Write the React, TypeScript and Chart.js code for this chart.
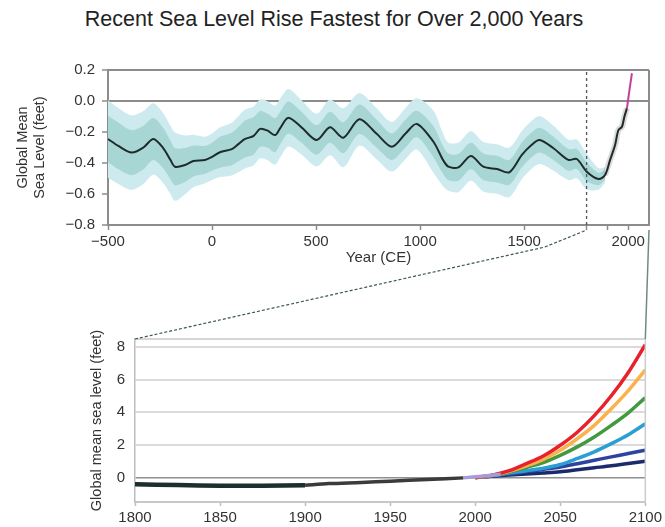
import React, { useEffect, useRef, useState } from 'react';
import { Chart, registerables } from 'chart.js';

Chart.register(...registerables);

// ---------- Top panel: reconstructed sea level, -500 to present (feet) ----------
const proxyYears = [-500, -450, -386, -330, -282, -234, -200, -178, -130, -90, -34, 0, 38, 95, 125, 159, 200, 231, 265, 303, 327, 367, 430, 503, 567, 631, 708, 790, 864, 930, 984, 1064, 1110, 1136, 1184, 1244, 1304, 1369, 1429, 1489, 1530, 1574, 1641, 1713, 1753, 1801, 1857, 1889];
const proxyMean = [-0.245, -0.29, -0.333, -0.3, -0.245, -0.305, -0.38, -0.424, -0.413, -0.387, -0.38, -0.36, -0.331, -0.31, -0.28, -0.245, -0.225, -0.18, -0.19, -0.22, -0.176, -0.108, -0.17, -0.252, -0.17, -0.237, -0.118, -0.21, -0.295, -0.21, -0.148, -0.263, -0.38, -0.424, -0.428, -0.355, -0.424, -0.439, -0.46, -0.348, -0.29, -0.252, -0.305, -0.38, -0.374, -0.456, -0.503, -0.477];
const proxyOuterHalf = [0.25, 0.245, 0.24, 0.235, 0.23, 0.225, 0.22, 0.22, 0.19, 0.17, 0.15, 0.15, 0.16, 0.17, 0.18, 0.19, 0.19, 0.19, 0.19, 0.19, 0.19, 0.185, 0.175, 0.17, 0.18, 0.19, 0.17, 0.165, 0.16, 0.165, 0.165, 0.2, 0.17, 0.155, 0.16, 0.16, 0.16, 0.16, 0.16, 0.155, 0.155, 0.155, 0.145, 0.13, 0.125, 0.115, 0.07, 0.05];
const proxyInnerHalf = [0.15, 0.15, 0.145, 0.14, 0.135, 0.13, 0.125, 0.12, 0.11, 0.1, 0.09, 0.09, 0.1, 0.105, 0.11, 0.12, 0.12, 0.115, 0.11, 0.11, 0.105, 0.104, 0.1, 0.095, 0.1, 0.1, 0.095, 0.09, 0.085, 0.09, 0.085, 0.1, 0.09, 0.086, 0.086, 0.085, 0.085, 0.085, 0.08, 0.08, 0.08, 0.08, 0.075, 0.07, 0.065, 0.06, 0.04, 0.03];
const gaugeYears = [1889, 1913, 1937, 1953, 1970, 1982, 1994];
const gaugeMean = [-0.477, -0.38, -0.284, -0.187, -0.166, -0.1, -0.047];
const satelliteYears = [1994, 2005, 2018];
const satelliteMean = [-0.047, 0.06, 0.179];
const topXTicks = [-500, 0, 500, 1000, 1500, 1800, 1900, 2000];
const topXLabelled = [-500, 0, 500, 1000, 1500, 2000];
const topYTicks = [-0.8, -0.6, -0.4, -0.2, 0, 0.2];
const zoomStartYear = 1800;
const connectorBendYear = 1600;

// ---------- Bottom panel: 1800 to 2100 with scenarios (feet) ----------
const histEarlyYears = [1800, 1825, 1850, 1875, 1900];
const histEarlyMean = [-0.41, -0.46, -0.5, -0.5, -0.47];
const histLateYears = [1900, 1914, 1933, 1950, 1972, 1993];
const histLateMean = [-0.47, -0.37, -0.3, -0.22, -0.12, -0.02];
const recentYears = [1993, 2004, 2015];
const recentMean = [-0.02, 0.08, 0.2];
const scenarioYears = [2000, 2010, 2020, 2030, 2040, 2050, 2060, 2070, 2080, 2090, 2100];
const scenarioExtreme = [0, 0.15, 0.42, 0.85, 1.32, 1.98, 2.78, 3.8, 5.02, 6.45, 8.15];
const scenarioHigh = [0, 0.14, 0.38, 0.72, 1.12, 1.67, 2.38, 3.2, 4.22, 5.33, 6.6];
const scenarioIntHigh = [0, 0.13, 0.34, 0.62, 0.92, 1.36, 1.88, 2.49, 3.2, 3.97, 4.9];
const scenarioIntermediate = [0, 0.12, 0.28, 0.42, 0.57, 0.8, 1.17, 1.58, 2.08, 2.63, 3.3];
const scenarioIntLow = [0, 0.1, 0.22, 0.36, 0.5, 0.65, 0.85, 1.06, 1.27, 1.47, 1.68];
const scenarioLow = [0, 0.08, 0.15, 0.21, 0.28, 0.36, 0.48, 0.6, 0.72, 0.86, 1.0];
const bottomXTicks = [1800, 1850, 1900, 1950, 2000, 2050, 2100];
const bottomYTicks = [0, 2, 4, 6, 8];

const FONT = "'Liberation Sans', Arial, sans-serif";
const TEXT = '#333333';

const pts = (xs: number[], ys: number[]) => xs.map((x, i) => ({ x, y: ys[i] }));
const fmtX = (v: number) => (v < 0 ? '\u2212' + Math.abs(v) : String(v));
const fmtY = (v: number) => {
  const s = Math.abs(v).toFixed(1);
  return v < -1e-9 ? '\u2212' + s : s;
};

const framePlugin = {
  id: 'frame',
  afterDatasetsDraw(chart: any, _args: any, opts: any) {
    const { ctx, chartArea } = chart;
    ctx.save();
    ctx.strokeStyle = opts.topColor;
    ctx.lineWidth = opts.topWidth;
    ctx.beginPath();
    ctx.moveTo(chartArea.left, chartArea.top);
    ctx.lineTo(chartArea.right, chartArea.top);
    ctx.stroke();
    ctx.strokeStyle = opts.rightColor;
    ctx.lineWidth = opts.rightWidth;
    ctx.beginPath();
    ctx.moveTo(chartArea.right, chartArea.top);
    ctx.lineTo(chartArea.right, chartArea.bottom);
    ctx.stroke();
    ctx.restore();
  },
};

const noPts = { pointRadius: 0, pointHoverRadius: 0 };

function topConfig(): any {
  const band = (half: number[], sign: number) =>
    proxyYears.map((x, i) => ({ x, y: proxyMean[i] + sign * half[i] }));
  return {
    type: 'line',
    data: {
      datasets: [
        { data: [{ x: zoomStartYear, y: -0.8 }, { x: zoomStartYear, y: 0.2 }], borderColor: '#555', borderWidth: 1.3, borderDash: [3, 3], tension: 0, ...noPts },
        { data: pts(satelliteYears, satelliteMean), borderColor: '#c2409f', borderWidth: 2, tension: 0.3, ...noPts },
        { data: [...pts(proxyYears, proxyMean), ...pts(gaugeYears.slice(1), gaugeMean.slice(1))], borderColor: '#1f2b2b', borderWidth: 2, tension: 0.3, ...noPts },
        { data: pts(gaugeYears, gaugeMean), borderColor: 'rgba(165,165,165,0.4)', borderWidth: 6, tension: 0.3, ...noPts },
        { data: band(proxyInnerHalf, 1), borderColor: 'rgba(0,0,0,0)', backgroundColor: '#a7d6d4', fill: '+1', tension: 0.3, ...noPts },
        { data: band(proxyInnerHalf, -1), borderColor: 'rgba(0,0,0,0)', fill: false, tension: 0.3, ...noPts },
        { data: band(proxyOuterHalf, 1), borderColor: 'rgba(0,0,0,0)', backgroundColor: '#cdeaee', fill: '+1', tension: 0.3, ...noPts },
        { data: band(proxyOuterHalf, -1), borderColor: 'rgba(0,0,0,0)', fill: false, tension: 0.3, ...noPts },
      ],
    },
    plugins: [framePlugin],
    options: {
      animation: false,
      responsive: false,
      maintainAspectRatio: false,
      devicePixelRatio: 1,
      layout: { padding: { top: 70, right: 16, left: 0, bottom: 0 } },
      plugins: {
        legend: { display: false },
        tooltip: { enabled: false },
        frame: { topColor: '#8c8c8c', topWidth: 2, rightColor: '#8c8c8c', rightWidth: 2 },
      },
      scales: {
        x: {
          type: 'linear', min: -500, max: 2100,
          afterBuildTicks: (s: any) => { s.ticks = topXTicks.map((v) => ({ value: v })); },
          afterFit: (s: any) => { s.height = 45; },
          ticks: { autoSkip: false, maxRotation: 0, padding: 3, color: TEXT, font: { family: FONT, size: 15 }, callback: (v: number) => (topXLabelled.includes(v) ? fmtX(v) : '') },
          grid: { drawOnChartArea: false, tickLength: 5, tickColor: '#8c8c8c', tickWidth: 1.5 },
          border: { display: true, color: '#8c8c8c', width: 2 },
          title: { display: true, text: 'Year (CE)', color: TEXT, font: { family: FONT, size: 15 }, padding: { top: 0, bottom: 3 } },
        },
        y: {
          type: 'linear', min: -0.8, max: 0.2,
          afterBuildTicks: (s: any) => { s.ticks = topYTicks.map((v) => ({ value: v })); },
          afterFit: (s: any) => { s.width = 108; },
          ticks: { padding: 7, color: TEXT, font: { family: FONT, size: 15 }, callback: (v: number) => fmtY(v) },
          grid: {
            color: (c: any) => (c.tick && Math.abs(c.tick.value) < 1e-9 ? '#8c8c8c' : 'rgba(0,0,0,0)'),
            lineWidth: 2, tickLength: 6, tickColor: '#8c8c8c', tickWidth: 1.5,
          },
          border: { display: true, color: '#8c8c8c', width: 2 },
          title: { display: true, text: ['Global Mean', 'Sea Level (feet)'], color: TEXT, font: { family: FONT, size: 14.5 }, padding: { top: 14, bottom: 0 } },
        },
      },
    },
  };
}

function bottomConfig(): any {
  const scen = (ys: number[], color: string) => ({ data: pts(scenarioYears, ys), borderColor: color, borderWidth: 3.5, cubicInterpolationMode: 'monotone', ...noPts });
  return {
    type: 'line',
    data: {
      datasets: [
        { data: pts(recentYears, recentMean), borderColor: '#a79bdc', borderWidth: 3.5, tension: 0.3, ...noPts },
        scen(scenarioExtreme, '#e8212b'),
        scen(scenarioHigh, '#fbb24c'),
        scen(scenarioIntHigh, '#43993f'),
        scen(scenarioIntermediate, '#2b9fd4'),
        scen(scenarioIntLow, '#2c44a0'),
        scen(scenarioLow, '#1b2a6b'),
        { data: pts(histLateYears, histLateMean), borderColor: '#3b3b3b', borderWidth: 3.5, tension: 0.3, ...noPts },
        { data: pts(histEarlyYears, histEarlyMean), borderColor: '#1b302e', borderWidth: 4.5, tension: 0.3, ...noPts },
      ],
    },
    plugins: [framePlugin],
    options: {
      animation: false,
      responsive: false,
      maintainAspectRatio: false,
      devicePixelRatio: 1,
      layout: { padding: { top: 18, right: 16, left: 0, bottom: 0 } },
      plugins: {
        legend: { display: false },
        tooltip: { enabled: false },
        frame: { topColor: '#d6d6d6', topWidth: 2, rightColor: '#cccccc', rightWidth: 1.5 },
      },
      scales: {
        x: {
          type: 'linear', min: 1800, max: 2100,
          afterBuildTicks: (s: any) => { s.ticks = bottomXTicks.map((v) => ({ value: v })); },
          afterFit: (s: any) => { s.height = 25; },
          ticks: { autoSkip: false, maxRotation: 0, padding: 3, color: TEXT, font: { family: FONT, size: 15 }, callback: (v: number) => String(v) },
          grid: { drawOnChartArea: false, tickLength: 4, tickColor: '#bdbdbd', tickWidth: 1.5 },
          border: { display: true, color: '#c8c8c8', width: 2 },
        },
        y: {
          type: 'linear', min: -1.5, max: 8.5,
          afterBuildTicks: (s: any) => { s.ticks = bottomYTicks.map((v) => ({ value: v })); },
          afterFit: (s: any) => { s.width = 135; },
          ticks: { padding: 10, color: TEXT, font: { family: FONT, size: 15 }, callback: (v: number) => String(v) },
          grid: {
            color: (c: any) => (c.tick && Math.abs(c.tick.value) < 1e-9 ? '#8f8f8f' : '#dadada'),
            lineWidth: (c: any) => (c.tick && Math.abs(c.tick.value) < 1e-9 ? 1.5 : 2),
            drawTicks: false,
          },
          border: { display: true, color: '#bdbdbd', width: 1.5 },
          title: { display: true, text: 'Global mean sea level (feet)', color: TEXT, font: { family: FONT, size: 14.5 }, padding: { top: 88, bottom: 0 } },
        },
      },
    },
  };
}

const BOTTOM_TOP = 320;

export default function App() {
  const topRef = useRef<HTMLCanvasElement>(null);
  const botRef = useRef<HTMLCanvasElement>(null);
  const [conn, setConn] = useState<any>(null);

  useEffect(() => {
    const top = new Chart(topRef.current as HTMLCanvasElement, topConfig());
    const bot = new Chart(botRef.current as HTMLCanvasElement, bottomConfig());
    const tb = top.chartArea.bottom;
    setConn({
      p0: { x: bot.chartArea.left, y: BOTTOM_TOP + bot.chartArea.top },
      p1: { x: top.scales.x.getPixelForValue(connectorBendYear), y: tb + 22 },
      p2: { x: top.scales.x.getPixelForValue(zoomStartYear), y: tb + 5 },
      r0: { x: top.chartArea.right, y: tb + 5 },
      r1: { x: bot.chartArea.right, y: BOTTOM_TOP + bot.chartArea.top },
    });
    return () => {
      top.destroy();
      bot.destroy();
    };
  }, []);

  return (
    <div style={{ position: 'fixed', left: 0, top: 0, width: 665, height: 527, background: '#fff', overflow: 'hidden' }}>
      <div style={{ position: 'absolute', left: 0, top: 7, width: 668, textAlign: 'center', fontFamily: FONT, fontSize: 21.5, color: '#222', lineHeight: '24px' }}>
        Recent Sea Level Rise Fastest for Over 2,000 Years
      </div>
      <canvas ref={topRef} width={665} height={270} style={{ position: 'absolute', left: 0, top: 0, width: 665, height: 270 }} />
      <canvas ref={botRef} width={665} height={207} style={{ position: 'absolute', left: 0, top: BOTTOM_TOP, width: 665, height: 207 }} />
      {conn && (
        <svg width={665} height={527} style={{ position: 'absolute', left: 0, top: 0, pointerEvents: 'none' }}>
          <polyline
            points={`${conn.p0.x},${conn.p0.y} ${conn.p1.x},${conn.p1.y} ${conn.p2.x},${conn.p2.y}`}
            fill="none" stroke="#3c5757" strokeWidth={1.2} strokeDasharray="3 2"
          />
          <line x1={conn.r0.x} y1={conn.r0.y} x2={conn.r1.x} y2={conn.r1.y} stroke="#6f8a88" strokeWidth={1.5} />
        </svg>
      )}
    </div>
  );
}
